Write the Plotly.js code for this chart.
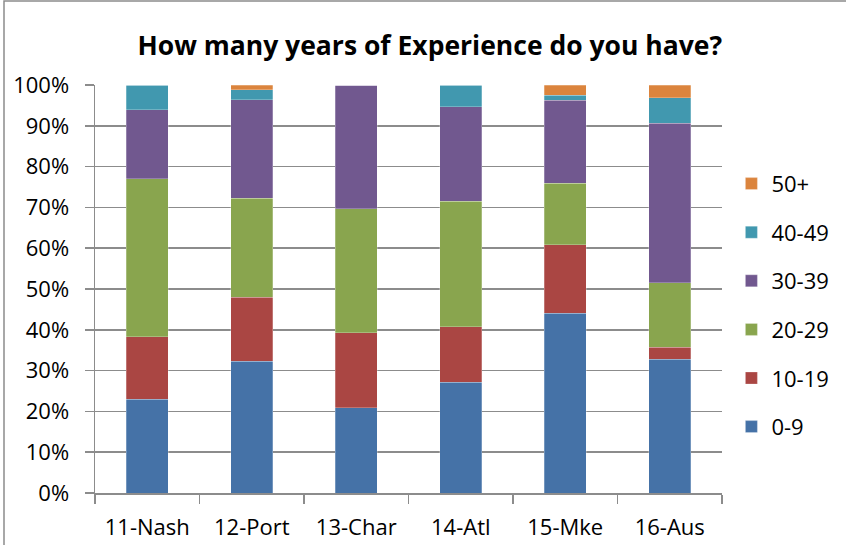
<!DOCTYPE html>
<html>
<head>
<meta charset="utf-8">
<script src="https://cdn.plot.ly/plotly-3.0.1.min.js"></script>
<style>html,body{margin:0;padding:0;background:#fff;}#chart{width:846px;height:545px;}</style>
</head>
<body>
<div id="chart"></div>
<script>
var categories = ["11-Nash", "12-Port", "13-Char", "14-Atl", "15-Mke", "16-Aus"];
var seriesNames = ["0-9", "10-19", "20-29", "30-39", "40-49", "50+"];
var s0to9   = [23.0, 32.3, 20.9, 27.1, 44.1, 32.8];
var s10to19 = [15.3, 15.7, 18.4, 13.7, 16.7, 2.9];
var s20to29 = [38.7, 24.3, 30.4, 30.7, 15.1, 15.8];
var s30to39 = [16.9, 24.1, 30.3, 23.2, 20.4, 39.1];
var s40to49 = [6.1, 2.4, 0.0, 5.3, 1.2, 6.3];
var s50plus = [0.0, 1.2, 0.0, 0.0, 2.5, 3.1];
var yTickVals = [0, 10, 20, 30, 40, 50, 60, 70, 80, 90, 100];
var yTickText = ["0%", "10%", "20%", "30%", "40%", "50%", "60%", "70%", "80%", "90%", "100%"];

var seriesValues = [s0to9, s10to19, s20to29, s30to39, s40to49, s50plus];
var colors = ["#4572A7", "#AA4643", "#89A54E", "#71588F", "#4198AF", "#DB843D"];

var traces = seriesNames.map(function (name, i) {
  return {
    type: "bar",
    name: name,
    x: categories,
    y: seriesValues[i],
    legendgroup: name,
    legendrank: 100 - i,
    marker: { color: colors[i], line: { color: "rgba(255,255,255,0.5)", width: 0.5 } },
    hoverinfo: "x+y+name"
  };
});

var font = "'Open Sans', 'Liberation Sans', sans-serif";
var layout = {
  width: 846,
  height: 545,
  barmode: "stack",
  bargap: 0.6,
  paper_bgcolor: "#ffffff",
  plot_bgcolor: "#ffffff",
  margin: { l: 95, r: 124, t: 85, b: 52, pad: 0 },
  title: {
    text: "<b>How many years of Experience do you have?</b>",
    font: { family: font, size: 26.5, color: "#000" },
    x: 0.508, xanchor: "center", yref: "container", y: 0.916, yanchor: "middle"
  },
  font: { family: font, size: 22, color: "#000" },
  xaxis: {
    type: "category",
    showgrid: false,
    showline: true, linecolor: "#8c8c8c", linewidth: 1.5,
    ticks: "outside", tickson: "boundaries", ticklen: 9, tickcolor: "#8c8c8c", tickwidth: 1.5,
    tickfont: { family: font, size: 22, color: "#000" },
    ticklabelstandoff: 14
  },
  yaxis: {
    range: [0, 100],
    tickvals: yTickVals, ticktext: yTickText,
    showgrid: true, gridcolor: "#8c8c8c", gridwidth: 1.5,
    showline: true, linecolor: "#8c8c8c", linewidth: 1.5,
    ticks: "outside", ticklen: 9, tickcolor: "#8c8c8c", tickwidth: 1.5,
    tickfont: { family: font, size: 22, color: "#000" },
    ticklabelstandoff: 11,
    zeroline: false
  },
  legend: {
    x: 1.015, xanchor: "left", y: 0.46, yanchor: "middle",
    traceorder: "grouped",
    tracegroupgap: 17,
    font: { family: font, size: 22, color: "#000" },
    itemwidth: 30
  },
  showlegend: true,
  shapes: [{
    type: "rect", xref: "paper", yref: "paper",
    x0: (4 - 95) / 627, x1: (850 - 95) / 627,
    y0: (493 - 560) / 408, y1: (493 - 1) / 408,
    line: { color: "#8c8c8c", width: 1.5 }, fillcolor: "rgba(0,0,0,0)", layer: "below"
  }]
};

Plotly.newPlot("chart", traces, layout, { displayModeBar: false, staticPlot: true });
</script>
</body>
</html>
